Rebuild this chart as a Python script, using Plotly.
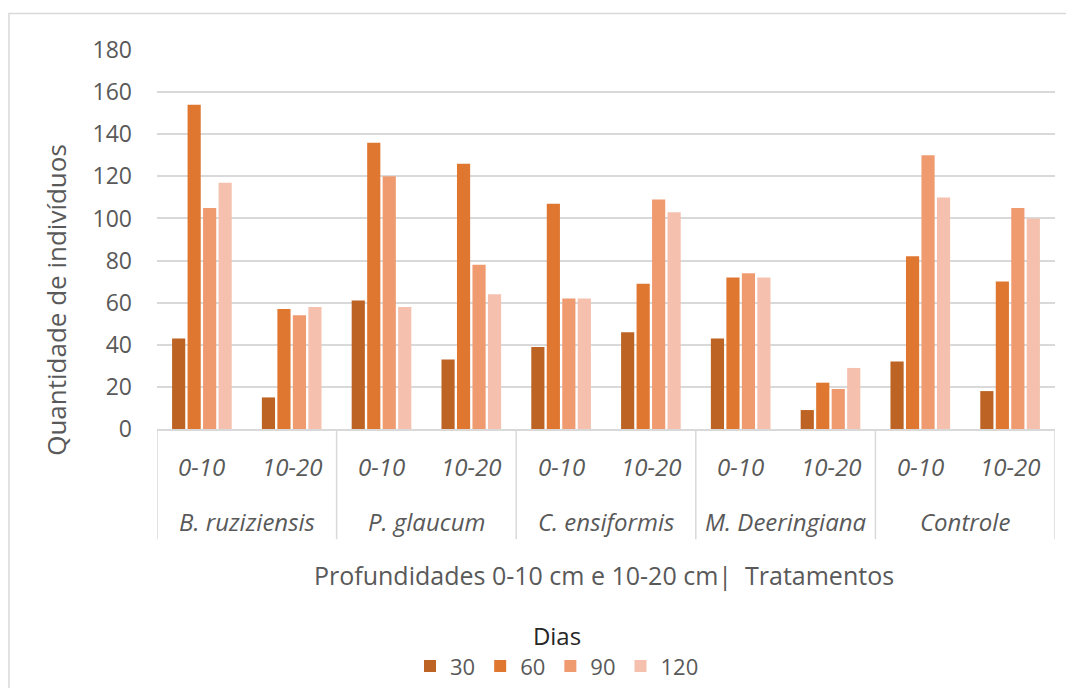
import plotly.graph_objects as go

groups = ["B. ruziziensis", "P. glaucum", "C. ensiformis", "M. Deeringiana", "Controle"]
depths = ["0-10", "10-20"]
series_names = ["30", "60", "90", "120"]
d30 = [43, 15, 61, 33, 39, 46, 43, 9, 32, 18]
d60 = [154, 57, 136, 126, 107, 69, 72, 22, 82, 70]
d90 = [105, 54, 120, 78, 62, 109, 74, 19, 130, 105]
d120 = [117, 58, 58, 64, 62, 103, 72, 29, 110, 100]
colors = ["#BD6324", "#E07730", "#F09A70", "#F5C1AE"]
y_ticks = [0, 20, 40, 60, 80, 100, 120, 140, 160, 180]

cats = [f"{g}|{d}" for g in groups for d in depths]
FONT = "Open Sans"
GREY = "#595959"

fig = go.Figure()
for name, vals, col in zip(series_names, [d30, d60, d90, d120], colors):
    fig.add_trace(go.Bar(x=cats, y=vals, name=name, marker=dict(color=col, line=dict(width=0))))

# page has an 8px body margin: work in screen pixels, convert to figure pixels
OFF = 8
W, H = 1074 - OFF, 688 - OFF
SL, SR, ST, SB = 157, 1055, 49.5, 429.5   # plot area in screen px
L, T = SL - OFF, ST - OFF
R = W - (SR - OFF)
B = H - (SB - OFF)
pw = SR - SL
ph = SB - ST

def px(x):
    return (x - SL) / pw

def py(y):
    return (SB - y) / ph

annotations = []
for c, d in zip(cats, [d for g in groups for d in depths]):
    annotations.append(dict(x=c, y=py(467), xref="x", yref="paper", text=f"<i>{d}</i>",
                            showarrow=False, font=dict(family=FONT, size=24, color=GREY),
                            xanchor="center", yanchor="middle"))
for i, g in enumerate(groups):
    annotations.append(dict(x=2 * i + 0.5, y=py(522), xref="x", yref="paper", text=f"<i>{g}</i>",
                            showarrow=False, font=dict(family=FONT, size=24, color=GREY),
                            xanchor="center", yanchor="middle"))
annotations.append(dict(x=px(604), y=py(576), xref="paper", yref="paper",
                        text="Profundidades 0-10 cm e 10-20 cm|  Tratamentos",
                        showarrow=False, font=dict(family=FONT, size=25, color=GREY),
                        xanchor="center", yanchor="middle"))
annotations.append(dict(x=px(56), y=py(300), xref="paper", yref="paper",
                        text="Quantidade de indivíduos", textangle=-90,
                        showarrow=False, font=dict(family=FONT, size=26, color=GREY),
                        xanchor="center", yanchor="middle"))

shapes = []
for k in range(len(groups) + 1):
    shapes.append(dict(type="line", xref="x", yref="paper", x0=2 * k - 0.5, x1=2 * k - 0.5,
                       y0=0, y1=py(540), line=dict(color="#D9D9D9", width=1.5)))
shapes.append(dict(type="rect", xref="paper", yref="paper", x0=px(9), x1=px(1100),
                   y0=py(760), y1=py(13), line=dict(color="#D9D9D9", width=1.5),
                   fillcolor="rgba(0,0,0,0)", layer="below"))

fig.update_layout(
    width=W, height=H,
    margin=dict(l=L, r=R, t=T, b=B, autoexpand=False),
    plot_bgcolor="white", paper_bgcolor="white",
    barmode="group", bargap=0.31, bargroupgap=0.15,
    font=dict(family=FONT, color=GREY),
    showlegend=True,
    legend=dict(orientation="h", x=px(557), xanchor="center", y=py(615), yanchor="top",
                title=dict(text="Dias", side="top center", font=dict(family=FONT, size=24, color="#262626")),
                font=dict(family=FONT, size=22, color=GREY),
                itemwidth=30, traceorder="normal"),
    annotations=annotations,
    shapes=shapes,
)
fig.update_xaxes(type="category", categoryorder="array", categoryarray=cats,
                 showticklabels=False, showgrid=False, ticks="",
                 showline=True, linecolor="#D9D9D9", linewidth=1.5,
                 range=[-0.5, len(cats) - 0.5])
fig.update_yaxes(range=[0, 180], tickvals=y_ticks, showgrid=True, gridcolor="#D9D9D9", gridwidth=1.5,
                 zeroline=False, showline=False, ticks="", ticklabelstandoff=24,
                 tickfont=dict(family=FONT, size=23, color=GREY))

fig.write_html("out.html")
